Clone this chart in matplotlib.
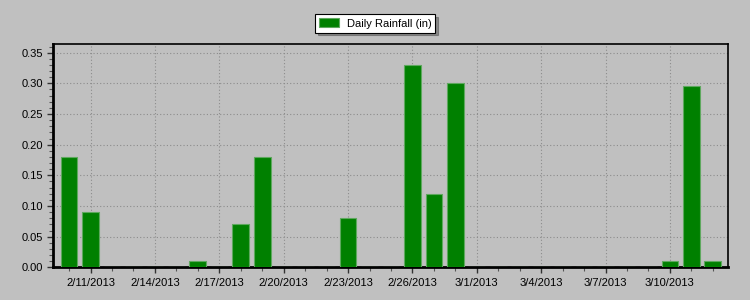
import numpy as np
import pandas as pd
import matplotlib
matplotlib.use('Agg')
import matplotlib.pyplot as plt
import matplotlib.dates as mdates

plt.rcParams['font.family'] = ['Liberation Sans', 'DejaVu Sans']

# daily rainfall, 2/10/2013 - 3/12/2013
dates = pd.date_range('2013-02-10', '2013-03-12', freq='D')
rain = [0.18, 0.09, 0, 0, 0, 0, 0.01, 0, 0.07, 0.18,
        0, 0, 0, 0.08, 0, 0, 0.33, 0.12, 0.30,
        0, 0, 0, 0, 0, 0, 0, 0, 0,
        0.01, 0.295, 0.01]
series_label = 'Daily Rainfall (in)'
x_tick_dates = ['2013-02-11', '2013-02-14', '2013-02-17', '2013-02-20', '2013-02-23',
                '2013-02-26', '2013-03-01', '2013-03-04', '2013-03-07', '2013-03-10']
y_ticks = [0.00, 0.05, 0.10, 0.15, 0.20, 0.25, 0.30, 0.35]

bg = '#c0c0c0'
fig = plt.figure(figsize=(7.5, 3), dpi=100, facecolor=bg)
ax = fig.add_axes([0.0707, 0.109, 0.9, 0.744])
ax.set_facecolor(bg)

ax.bar(dates, rain, width=0.78, color='#008000', edgecolor='#5ea85e',
       linewidth=0.8, label=series_label, zorder=3)

ax.set_xlim(dates[0] - pd.Timedelta(hours=18), dates[-1] + pd.Timedelta(hours=17))
ax.set_ylim(0, 0.364)

# major ticks every 3 days, minor every day
ax.set_xticks(pd.to_datetime(x_tick_dates))
ax.xaxis.set_major_formatter(mdates.DateFormatter('%-m/%-d/%Y'))
ax.xaxis.set_minor_locator(mdates.DayLocator())
ax.set_yticks(y_ticks)
ax.set_yticks(np.arange(0, 0.361, 0.01), minor=True)
ax.yaxis.set_major_formatter(matplotlib.ticker.FormatStrFormatter('%.2f'))

ax.tick_params(which='major', length=4, width=1, color='#333333', labelsize=8, pad=3)
ax.tick_params(which='minor', length=3, width=0.8, color='#555555')
ax.tick_params(axis='x', pad=4)

ax.grid(True, which='major', color='#8c8c8c', linestyle=(0, (1, 2)), linewidth=0.8, zorder=0)

for side in ['left', 'bottom']:
    ax.spines[side].set_linewidth(2)
    ax.spines[side].set_color('black')
for side in ['top', 'right']:
    ax.spines[side].set_linewidth(1.2)
    ax.spines[side].set_color('black')

leg = fig.legend(loc='center', bbox_to_anchor=(0.5, 0.922), fontsize=8,
                 frameon=True, fancybox=False, shadow=True, handlelength=1.8,
                 handleheight=0.9, borderpad=0.35, handletextpad=0.7, borderaxespad=0)
leg.get_frame().set_edgecolor('black')
leg.get_frame().set_linewidth(0.8)

fig.savefig('out.png', dpi=100, facecolor=bg)
